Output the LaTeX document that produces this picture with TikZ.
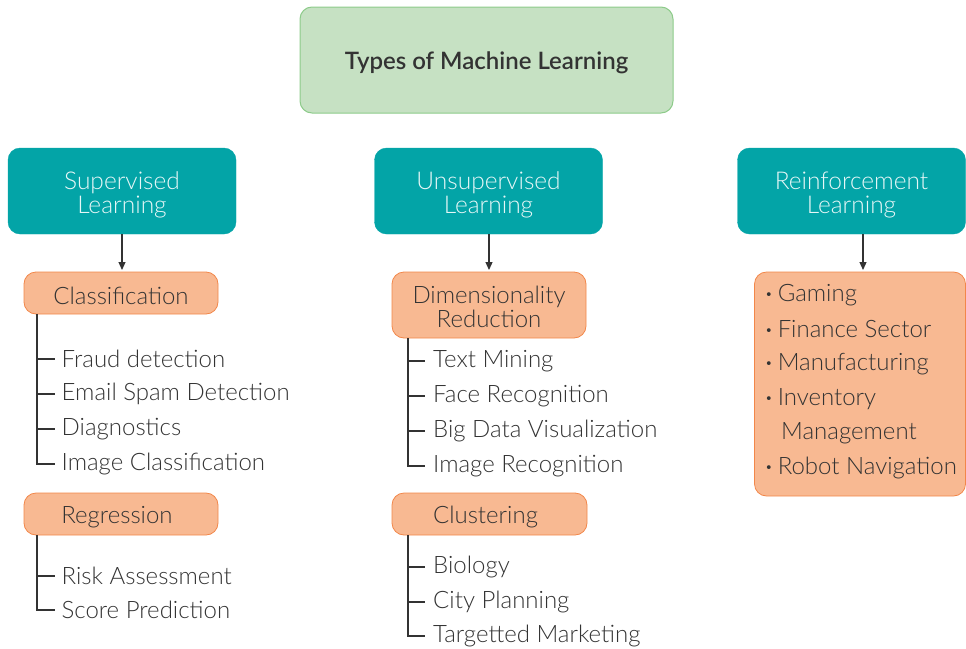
\documentclass[tikz,border=0pt]{standalone}
\usepackage{fontspec}
\setmainfont{Lato Light}[BoldFont={Lato Semibold}]
\usetikzlibrary{arrows.meta}
\definecolor{titlefill}{HTML}{C6E1C3}
\definecolor{titleline}{HTML}{8DCB8A}
\definecolor{teal}{HTML}{03A4A7}
\definecolor{tealtext}{HTML}{E6F7F7}
\definecolor{orfill}{HTML}{F8B992}
\definecolor{orline}{HTML}{F2874A}
\definecolor{ink}{HTML}{333333}
\newcommand{\dotmark}{\raisebox{0.25ex}{\fontsize{13}{13}\selectfont•}\hspace{5pt}}
\begin{document}
\begin{tikzpicture}[x=1pt,y=-1pt,
  titlebox/.style={draw=titleline,fill=titlefill,line width=1pt,rounded corners=12pt,
    minimum width=373pt,minimum height=106pt,inner sep=0pt},
  titletext/.style={inner sep=0pt,text=ink,font=\fontsize{24}{28}\selectfont\bfseries},
  typebox/.style={draw=teal,fill=teal,rounded corners=12pt,minimum width=228pt,minimum height=86pt,inner sep=0pt},
  typetext/.style={inner sep=0pt,text=tealtext,align=center,font=\fontsize{24.5}{24}\selectfont},
  catbox/.style={draw=orline,fill=orfill,line width=0.8pt,rounded corners=12pt,minimum width=194pt,inner sep=0pt},
  cattext/.style={inner sep=0pt,text=ink,align=center,font=\fontsize{24}{24}\selectfont},
  item/.style={anchor=west,inner xsep=6.5pt,inner ysep=0pt,text=ink,font=\fontsize{24}{24}\selectfont},
  tree/.style={draw=ink,line width=1.2pt},
  arr/.style={draw=ink,line width=1.2pt,-{Triangle[length=8pt,width=7pt]}}]
\useasboundingbox (0,0) rectangle (966,648);

% root
\node[titlebox] (root) at (486.5,60) {};
\node[titletext] (roott) at ([yshift=-3pt]root.center) {Types of Machine Learning};

% learning types
\node[typebox] (sup) at (122,191) {};
\node[typebox] (uns) at (488.5,191) {};
\node[typebox] (rein) at (851.5,191) {};
\node[typetext] (supt) at ([yshift=-3.5pt]sup.center) {Supervised\\Learning};
\node[typetext] (unst) at ([yshift=-3.5pt]uns.center) {Unsupervised\\Learning};
\node[typetext] (reint) at ([yshift=-3.5pt]rein.center) {Reinforcement\\Learning};

% categories
\node[catbox,minimum height=42pt] (cls) at (121,293) {};
\node[catbox,minimum height=42pt] (reg) at (121,514) {};
\node[catbox,minimum height=66pt] (dim) at (489,305) {};
\node[catbox,minimum height=42pt,minimum width=195pt] (clu) at (489.5,514) {};
\node[catbox,minimum height=224pt,minimum width=211pt] (rl) at (860,384) {};
\node[cattext] (clst) at ([yshift=-2.5pt]cls.center) {Classification};
\node[cattext] (regt) at ([xshift=-4pt,yshift=-3pt]reg.center) {Regression};
\node[cattext] (dimt) at ([yshift=-2pt]dim.center) {Dimensionality\\Reduction};
\node[cattext] (clut) at ([xshift=-4pt,yshift=-3pt]clu.center) {Clustering};

% arrows from types to categories
\draw[arr] (sup.south -| 122,0) -- (122,270);
\draw[arr] (uns.south -| 489,0) -- (489,270);
\draw[arr] (rein.south -| 863,0) -- (863,270);

% classification examples
\node[item] (c1) at (55,359) {Fraud detection};
\node[item] (c2) at (55,394) {Email Spam Detection};
\node[item] (c3) at (55,429) {Diagnostics};
\node[item] (c4) at (55,464) {Image Classification};
\coordinate (ct) at (37,314);
\draw[tree] (ct) |- (c4.west);
\foreach \n in {c1,c2,c3} \draw[tree] (ct |- \n.west) -- (\n.west);

% regression examples
\node[item] (r1) at (55,576) {Risk Assessment};
\node[item] (r2) at (55,610) {Score Prediction};
\coordinate (rt) at (37,535);
\draw[tree] (rt) |- (r2.west);
\draw[tree] (rt |- r1.west) -- (r1.west);

% dimensionality reduction examples
\node[item,inner xsep=8pt] (d1) at (425,361) {Text Mining};
\node[item,inner xsep=8pt] (d2) at (425,396) {Face Recognition};
\node[item,inner xsep=8pt] (d3) at (425,431) {Big Data Visualization};
\node[item,inner xsep=8pt] (d4) at (425,466) {Image Recognition};
\coordinate (dt) at (408,338);
\draw[tree] (dt) |- (d4.west);
\foreach \n in {d1,d2,d3} \draw[tree] (dt |- \n.west) -- (\n.west);

% clustering examples
\node[item,inner xsep=8pt] (k1) at (425,567) {Biology};
\node[item,inner xsep=8pt] (k2) at (425,602) {City Planning};
\node[item,inner xsep=8pt] (k3) at (425,636) {Targetted Marketing};
\coordinate (kt) at (408,535);
\draw[tree] (kt) |- (k3.west);
\foreach \n in {k1,k2} \draw[tree] (kt |- \n.west) -- (\n.west);

% reinforcement learning applications
\node[item,inner xsep=0pt] (g1) at (765,295) {\dotmark Gaming};
\node[item,inner xsep=0pt] (g2) at (765,329) {\dotmark Finance Sector};
\node[item,inner xsep=0pt] (g3) at (765,364) {\dotmark Manufacturing};
\node[item,inner xsep=0pt] (g4) at (765,399) {\dotmark Inventory};
\node[item,inner xsep=0pt] (g5) at (781,433) {Management};
\node[item,inner xsep=0pt] (g6) at (765,468) {\dotmark Robot Navigation};
\end{tikzpicture}
\end{document}
